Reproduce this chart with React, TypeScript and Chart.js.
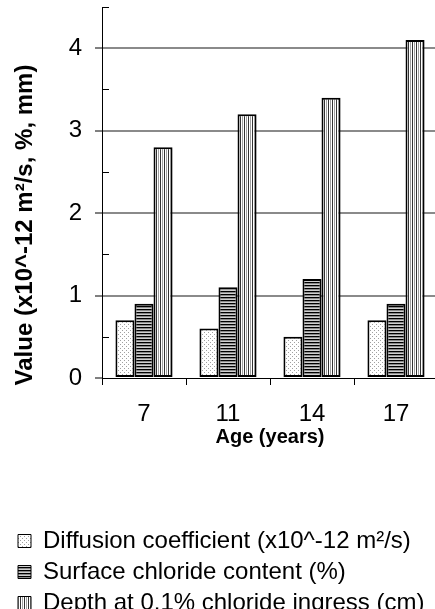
import React, { useEffect, useRef } from "react";
import { Chart, registerables } from "chart.js";

Chart.register(...registerables);

const categories = ["7", "11", "14", "17"];
const diffusion = [0.7, 0.6, 0.5, 0.7];
const surface = [0.9, 1.1, 1.2, 0.9];
const depth = [2.8, 3.2, 3.4, 4.1];
const seriesLabels = [
  "Diffusion coefficient (x10^-12 m²/s)",
  "Surface chloride content (%)",
  "Depth at 0.1% chloride ingress (cm)",
];
const yMin = 0;
const yMax = 4.5;
const yMinorStep = 0.5;
const yTitle = "Value (x10^-12 m²/s, %, mm)";
const xTitle = "Age (years)";

const FONT = "'Liberation Sans', Arial, sans-serif";
const CANVAS_W = 440;
const CANVAS_H = 640;

function makePattern(
  ctx: CanvasRenderingContext2D,
  w: number,
  h: number,
  draw: (g: CanvasRenderingContext2D) => void
): CanvasPattern {
  const c = document.createElement("canvas");
  c.width = w;
  c.height = h;
  const g = c.getContext("2d")!;
  draw(g);
  return ctx.createPattern(c, "repeat")!;
}

const titlesPlugin = {
  id: "customTitles",
  afterDraw(chart: any) {
    const { ctx, chartArea, scales } = chart;
    const y = scales.y;
    ctx.save();
    // minor inside ticks
    ctx.strokeStyle = "#000";
    ctx.lineWidth = 1;
    for (let v = yMin + yMinorStep; v <= yMax + 1e-9; v += 1) {
      const py = Math.round(y.getPixelForValue(v)) + 0.5;
      ctx.beginPath();
      ctx.moveTo(chartArea.left, py);
      ctx.lineTo(chartArea.left + 7, py);
      ctx.stroke();
    }
    ctx.fillStyle = "#000";
    ctx.textAlign = "center";
    ctx.textBaseline = "middle";
    ctx.font = `bold 20px ${FONT}`;
    ctx.fillText(xTitle, (chartArea.left + chartArea.right) / 2, 437);
    ctx.font = `bold 24px ${FONT}`;
    ctx.translate(25, 225);
    ctx.rotate(-Math.PI / 2);
    ctx.fillText(yTitle, 0, 0);
    ctx.restore();
  },
};

export default function App() {
  const ref = useRef<HTMLCanvasElement | null>(null);

  useEffect(() => {
    const canvas = ref.current!;
    const ctx = canvas.getContext("2d")!;
    const pDiff = makePattern(ctx, 4, 4, (g) => {
      g.fillStyle = "#fff";
      g.fillRect(0, 0, 4, 4);
      g.fillStyle = "#a0a0a0";
      g.fillRect(0, 0, 1, 1);
      g.fillRect(2, 2, 1, 1);
    });
    const pSurf = makePattern(ctx, 4, 3, (g) => {
      g.fillStyle = "#fff";
      g.fillRect(0, 0, 4, 3);
      g.fillStyle = "#000";
      g.fillRect(0, 0, 4, 1);
      g.fillStyle = "#8a8a8a";
      g.fillRect(0, 1, 4, 1);
      g.fillStyle = "#d0d0d0";
      g.fillRect(0, 2, 4, 1);
    });
    const pDepth = makePattern(ctx, 4, 1, (g) => {
      g.fillStyle = "#fff";
      g.fillRect(0, 0, 4, 1);
      g.fillStyle = "#333";
      g.fillRect(0, 0, 1, 1);
      g.fillStyle = "#a0a0a0";
      g.fillRect(2, 0, 1, 1);
    });

    const minorTicks: number[] = [];
    for (let v = yMin; v <= yMax + 1e-9; v += yMinorStep) minorTicks.push(Math.round(v * 10) / 10);

    const isMajor = (v: number) => Math.abs(v - Math.round(v)) < 1e-9;

    const chart = new Chart(canvas, {
      type: "bar",
      data: {
        labels: categories,
        datasets: [
          { label: seriesLabels[0], data: diffusion, backgroundColor: pDiff as any, borderColor: "#000", borderWidth: 2, borderSkipped: false },
          { label: seriesLabels[1], data: surface, backgroundColor: pSurf as any, borderColor: "#000", borderWidth: 2, borderSkipped: false },
          { label: seriesLabels[2], data: depth, backgroundColor: pDepth as any, borderColor: "#000", borderWidth: 2, borderSkipped: false },
        ],
      },
      options: {
        animation: false,
        responsive: false,
        devicePixelRatio: 1,
        layout: { padding: { left: 11, right: 2, top: 7, bottom: 15 } },
        datasets: { bar: { categoryPercentage: 0.68, barPercentage: 1 } } as any,
        scales: {
          x: {
            grid: { drawOnChartArea: false, offset: true, tickLength: 7, tickColor: "#000", tickWidth: 1 },
            border: { color: "#000", width: 1 },
            ticks: { color: "#000", font: { family: FONT, size: 24 }, padding: 15, maxRotation: 0 },
            afterFit: (s: any) => {
              s.height = 144;
              s.paddingLeft = 0;
              s.paddingRight = 0;
            },
          } as any,
          y: {
            min: yMin,
            max: yMax,
            afterBuildTicks: (s: any) => {
              s.ticks = minorTicks.map((v) => ({ value: v }));
            },
            grid: {
              color: (c: any) => (c.tick && c.tick.value > 0 && isMajor(c.tick.value) ? "#8a8a8a" : "rgba(0,0,0,0)"),
              lineWidth: 2,
              tickColor: (c: any) => (c.tick && isMajor(c.tick.value) ? "#000" : "rgba(0,0,0,0)"),
              tickLength: 7,
              tickWidth: 1,
            },
            border: { color: "#000", width: 1 },
            ticks: {
              color: "#000",
              font: { family: FONT, size: 24 },
              padding: 13,
              callback: (v: any) => (isMajor(Number(v)) ? String(v) : ""),
            },
            afterFit: (s: any) => {
              s.width = 91;
              s.paddingTop = 0;
              s.paddingBottom = 0;
            },
          } as any,
        },
        plugins: {
          legend: {
            position: "bottom",
            align: "start",
            labels: {
              boxWidth: 13,
              boxHeight: 13,
              padding: 7,
              color: "#000",
              font: { family: FONT, size: 24 },
              generateLabels: (ch: any) =>
                (Chart.defaults.plugins.legend.labels.generateLabels as any)(ch).map((l: any) => ({ ...l, lineWidth: 1 })),
            },
          },
          tooltip: { enabled: false },
        },
      },
      plugins: [titlesPlugin],
    });
    return () => chart.destroy();
  }, []);

  return (
    <div style={{ position: "fixed", left: 0, top: 0, width: 435, height: 609, overflow: "hidden", background: "#fff" }}>
      <canvas ref={ref} width={CANVAS_W} height={CANVAS_H} style={{ display: "block", width: CANVAS_W, height: CANVAS_H }} />
    </div>
  );
}
